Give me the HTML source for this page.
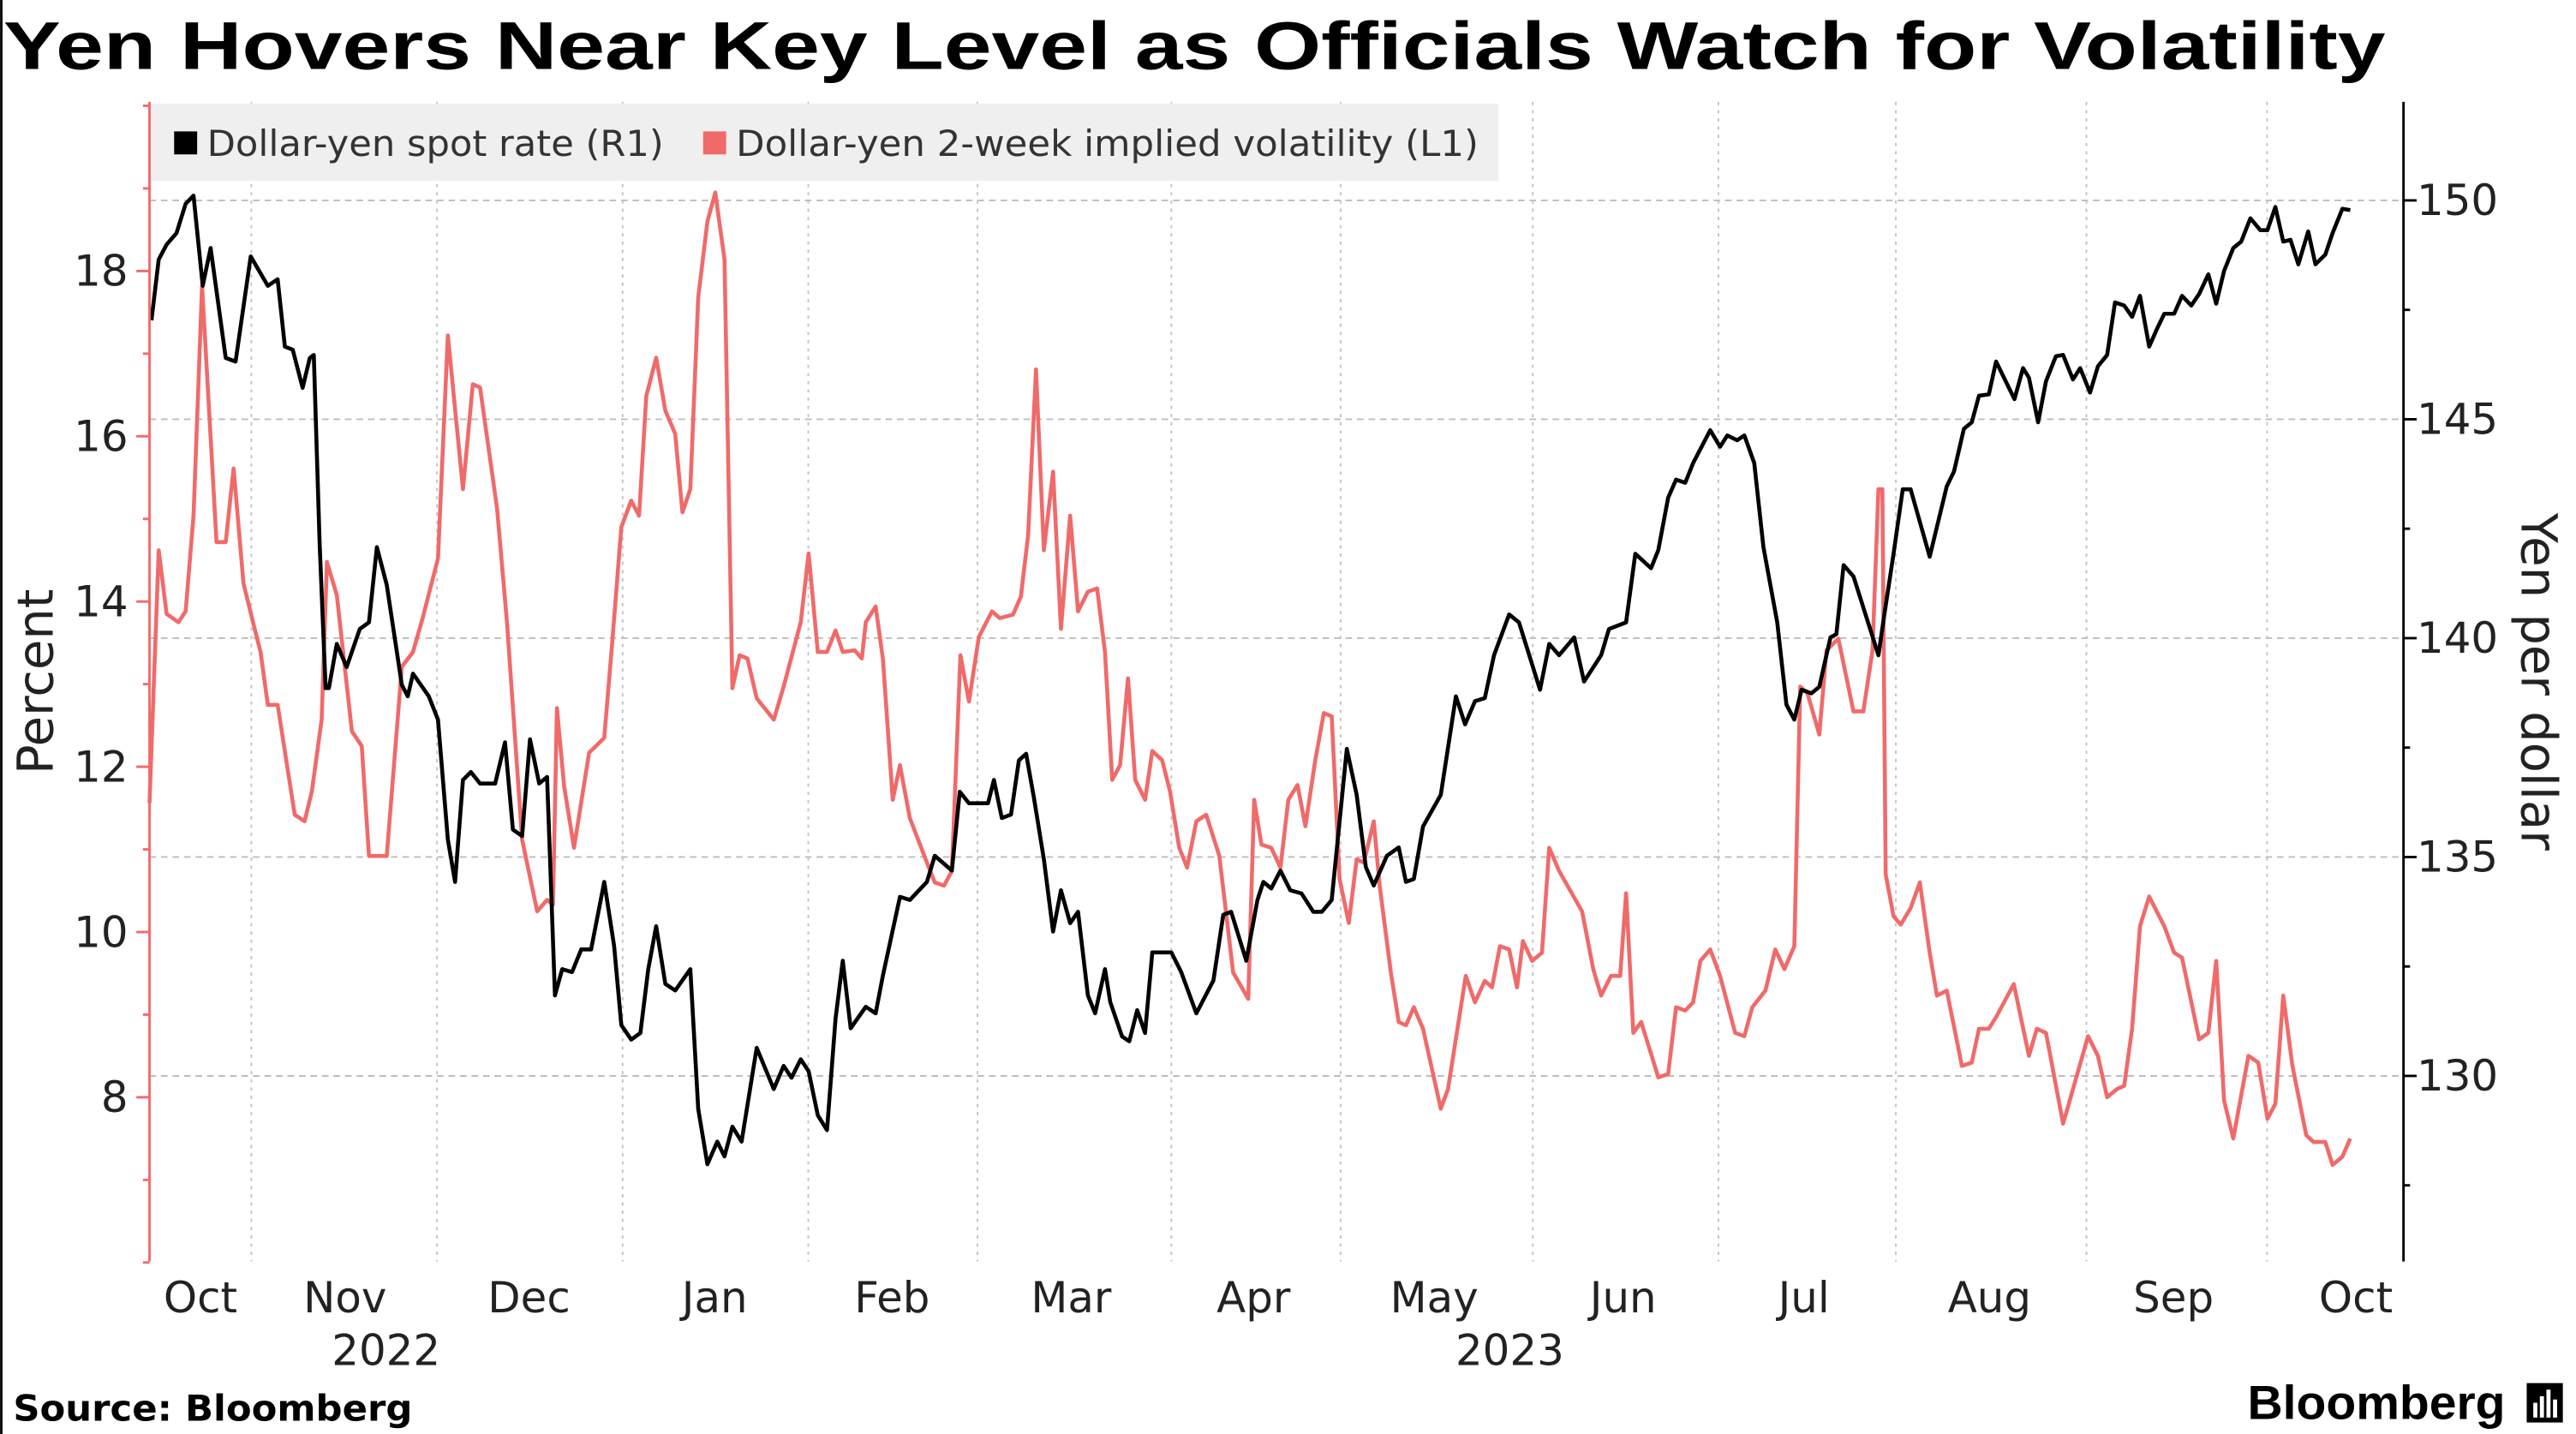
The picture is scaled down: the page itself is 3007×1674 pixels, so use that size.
<!DOCTYPE html>
<html><head><meta charset="utf-8"><style>
html,body{margin:0;padding:0;background:#fff;}
svg{display:block;}
text{font-family:"DejaVu Sans","Liberation Sans",sans-serif;}
</style></head><body>
<svg id="chart" width="3007" height="1674" viewBox="0 0 1568 873" preserveAspectRatio="none" xmlns="http://www.w3.org/2000/svg">
<rect x="0" y="0" width="1568" height="873" fill="#fff"/>
<line x1="0.8" y1="0" x2="0.8" y2="873" stroke="#000" stroke-width="1.5"/>
<text x="2" y="42" font-family="Liberation Sans, sans-serif" font-weight="bold" font-size="41" fill="#000" textLength="1450" lengthAdjust="spacingAndGlyphs" style="font-family:'Liberation Sans',sans-serif">Yen Hovers Near Key Level as Officials Watch for Volatility</text>
<g id="grid"></g>
<g id="series"></g>
<g id="axes"></g>
<g>
<rect x="92" y="63" width="820" height="47" fill="#efefef"/>
<rect x="106" y="80" width="14" height="14" fill="#000"/>
<text x="126" y="95" font-size="22" fill="#333" textLength="278" lengthAdjust="spacingAndGlyphs">Dollar-yen spot rate (R1)</text>
<rect x="428" y="80" width="14" height="14" fill="#f06a6a"/>
<text x="448" y="95" font-size="22" fill="#333" textLength="452" lengthAdjust="spacingAndGlyphs">Dollar-yen 2-week implied volatility (L1)</text>
</g>
<text transform="translate(32,415) rotate(-90)" text-anchor="middle" font-size="30" fill="#222">Percent</text>
<text transform="translate(1535,415) rotate(90)" text-anchor="middle" font-size="30" fill="#222">Yen per dollar</text>
<text x="8" y="865" font-size="22" font-weight="bold" fill="#000" textLength="243" lengthAdjust="spacingAndGlyphs">Source: Bloomberg</text>
<text x="1368" y="864" font-size="29" font-weight="bold" fill="#000" textLength="157" lengthAdjust="spacingAndGlyphs" style="font-family:'Liberation Sans',sans-serif">Bloomberg</text>
<g>
<rect x="1538" y="842" width="22" height="24" fill="#000"/>
<rect x="1542" y="854" width="2.5" height="9" fill="#fff"/><rect x="1546" y="850" width="2.5" height="13" fill="#fff"/><rect x="1550" y="846" width="2.5" height="17" fill="#fff"/><rect x="1554" y="852" width="2.5" height="11" fill="#fff"/>
</g>
</svg>
<script>
// spot rate (R1), yen per dollar; t = trading-day index from mid-Oct 2022
const spotT = [0.3,1.4,2.6,4.1,5.5,6.7,8.1,9.3,11.6,13.1,15.4,18.0,19.5,20.6,21.8,23.3,24.4,25,25.9,26.8,27.3,28.5,30.0,32.0,33.4,34.6,36.1,38.4,39.3,40.1,42.5,43.9,45.4,46.5,47.7,48.9,50.3,52.6,54.1,55.3,56.7,57.9,59.3,60.5,61.7,62.8,64.3,65.7,67.2,69.2,70.7,71.8,73.3,74.7,75.9,77.1,78.5,80.0,82.3,83.5,84.9,86.4,87.5,88.7,90.1,92.4,95.0,96.5,97.7,99.1,100.3,101.7,103.1,104.4,105.5,106.7,109.0,110.5,111.6,114.2,115.7,118.3,119.5,122.1,123.3,124.7,127.6,128.5,129.7,131.1,132.3,133.4,134.6,136.1,137.5,138.7,140.1,141.3,142.8,143.9,145.4,146.2,148.0,149.1,150.3,151.5,152.6,155.5,157.0,159.3,161.9,163.4,164.6,166.9,168.6,169.5,170.7,172.1,173.6,175.3,177.1,178.4,179.9,182.2,183.7,185.1,186.3,188.3,190.1,191.2,192.4,193.8,196.5,198.8,200.2,201.7,203.2,204.6,206.9,208.4,211.6,213.0,214.5,216.8,218.3,220.9,222.1,224.7,226.1,228.5,229.6,231.1,232.3,233.7,234.9,237.5,239.0,240.1,241.6,242.7,244.2,245.6,247.7,249.1,250.3,251.4,252.9,254.1,255.8,256.7,257.8,259.3,263.1,264.0,265.4,266.8,268.0,270.9,273.5,274.6,276.1,277.3,278.4,279.9,281.0,283.8,285.1,286.0,287.4,288.6,290.1,291.2,292.7,293.8,295.3,296.5,297.9,299.1,300.5,301.7,302.9,304.3,305.5,306.6,308.1,309.3,310.7,311.9,313.3,314.5,315.7,317.1,318.3,319.7,321.2,322.3,323.5,324.7,325.8,327.0,328.5,329.6,331.1,332.2,333.7,334.9];
const spotValues = [147.26,148.65,148.99,149.25,149.92,150.11,148.05,148.91,146.40,146.32,148.72,148.05,148.20,146.66,146.59,145.72,146.40,146.47,142.12,138.86,138.86,139.87,139.34,140.21,140.36,142.08,141.22,138.93,138.67,139.19,138.67,138.14,135.40,134.43,136.76,136.94,136.68,136.68,137.62,135.63,135.48,137.69,136.68,136.83,131.84,132.44,132.37,132.89,132.89,134.43,132.97,131.16,130.83,130.98,132.44,133.42,132.10,131.95,132.44,129.25,127.98,128.50,128.16,128.84,128.50,130.64,129.70,130.23,129.96,130.38,130.11,129.10,128.76,131.31,132.63,131.09,131.58,131.43,132.29,134.09,134.02,134.43,135.03,134.69,136.49,136.23,136.23,136.76,135.89,135.97,137.21,137.36,136.34,134.95,133.30,134.24,133.49,133.75,131.84,131.43,132.44,131.69,130.90,130.79,131.50,130.98,132.82,132.82,132.37,131.43,132.18,133.68,133.75,132.63,134.02,134.43,134.28,134.69,134.24,134.17,133.75,133.75,134.02,137.47,136.42,134.77,134.35,135.03,135.22,134.43,134.50,135.70,136.42,138.67,138.03,138.56,138.63,139.61,140.54,140.36,138.82,139.87,139.61,140.02,139.01,139.61,140.21,140.36,141.93,141.60,142.01,143.21,143.62,143.55,144.00,144.75,144.37,144.63,144.52,144.63,144.00,142.08,140.36,138.48,138.14,138.82,138.74,138.89,140.02,140.09,141.67,141.41,139.61,140.54,141.93,143.40,143.40,141.86,143.47,143.81,144.78,144.93,145.54,145.57,146.32,145.46,146.17,145.95,144.93,145.87,146.44,146.47,145.91,146.17,145.61,146.21,146.47,147.67,147.60,147.34,147.82,146.66,147.07,147.41,147.41,147.82,147.60,147.86,148.31,147.64,148.39,148.91,149.06,149.59,149.32,149.32,149.85,149.06,149.10,148.54,149.29,148.54,148.76,149.25,149.81,149.78];
// 2-week implied volatility (L1), percent
const volT = [0,1.4,2.6,4.4,5.5,6.7,8.0,9.0,10.2,11.6,12.8,14.3,16.0,16.9,18.0,19.5,22.1,23.6,24.7,26.2,27.0,28.5,30.8,32.3,33.4,36.1,38.4,40.1,41.6,43.9,45.4,47.7,49.2,50.3,52.9,54.4,56.7,59.0,60.5,61.4,62.0,63.1,64.6,66.9,69.2,70.4,71.8,73.3,74.5,75.6,77.1,78.5,80.0,81.1,82.3,83.5,84.9,86.1,87.5,88.7,89.8,91.0,92.4,95.0,96.5,99.1,100.3,101.7,103.1,104.4,105.5,107.3,108.4,109.0,110.5,111.6,113.1,114.2,115.7,118.3,119.5,120.9,122.1,123.4,124.7,126.2,128.2,129.4,131.4,132.6,133.7,134.9,136.1,137.5,138.7,140.1,141.3,142.8,144.2,145.4,146.5,147.7,148.9,150.0,151.5,152.6,154.1,155.3,156.7,157.9,159.3,160.8,162.8,164.9,167.2,168.1,169.2,170.7,172.1,173.3,174.7,175.9,177.4,178.7,179.9,181.1,182.5,183.7,184.8,186.3,187.2,188.9,190.1,191.2,192.4,193.8,196.5,197.6,200.3,201.7,203.2,204.3,205.5,206.9,208.1,209.0,210.4,211.9,213.0,214.5,218.0,219.7,220.9,222.4,223.8,224.7,225.8,227.0,229.6,231.1,232.3,233.7,234.9,236.0,237.5,239.0,241.3,242.7,243.9,245.9,247.4,248.8,250.3,251.2,252.3,254.1,255.2,257.0,259.3,260.8,262.2,263.1,263.7,264.2,265.4,266.5,268.0,269.4,270.9,272.0,273.5,275.8,277.3,278.4,279.9,281.0,283.7,286.0,287.2,288.6,291.2,295.0,296.5,297.9,299.4,300.5,301.7,302.9,304.3,306.6,308.1,309.3,311.9,313.3,314.5,315.7,317.1,319.4,320.9,322.3,323.5,324.7,326.1,328.2,329.3,331.1,332.2,333.7,334.9];
const volValues = [11.56,14.62,13.85,13.75,13.88,15.04,17.82,16.41,14.72,14.72,15.61,14.22,13.67,13.39,12.75,12.75,11.42,11.34,11.70,12.57,14.48,14.08,12.43,12.25,10.92,10.92,13.21,13.39,13.81,14.52,17.22,15.36,16.63,16.59,15.12,13.75,11.12,10.25,10.39,10.33,12.71,11.76,11.02,12.17,12.35,13.49,14.90,15.22,15.04,16.49,16.95,16.31,16.03,15.08,15.36,17.68,18.60,18.95,18.14,12.95,13.35,13.31,12.83,12.57,12.97,13.75,14.58,13.39,13.39,13.65,13.39,13.41,13.31,13.75,13.94,13.31,11.60,12.02,11.38,10.84,10.60,10.56,10.74,13.35,12.79,13.57,13.88,13.80,13.84,14.06,14.80,16.81,14.62,15.57,13.67,15.04,13.88,14.12,14.16,13.39,11.84,12.02,13.07,11.84,11.60,12.19,12.08,11.70,11.02,10.78,11.34,11.42,10.92,9.51,9.19,11.60,11.06,11.02,10.78,11.60,11.78,11.28,12.08,12.65,12.61,10.64,10.11,10.88,10.84,11.34,10.56,9.51,8.91,8.87,9.09,8.83,7.86,8.10,9.47,9.15,9.41,9.33,9.83,9.79,9.33,9.89,9.65,9.75,11.02,10.74,10.25,9.55,9.23,9.47,9.47,10.47,8.78,8.91,8.24,8.28,9.09,9.05,9.15,9.65,9.79,9.47,8.78,8.74,9.09,9.29,9.79,9.55,9.83,12.97,12.89,12.39,13.41,13.55,12.67,12.67,13.41,15.36,15.36,10.70,10.19,10.09,10.29,10.60,9.75,9.23,9.29,8.38,8.42,8.83,8.83,8.97,9.37,8.50,8.83,8.78,7.68,8.74,8.50,8.00,8.10,8.14,8.83,10.07,10.43,10.07,9.75,9.69,8.70,8.78,9.65,7.96,7.50,8.50,8.42,7.74,7.92,9.23,8.38,7.54,7.46,7.46,7.18,7.28,7.50];
// axes
const leftTicks = [8,10,12,14,16,18];
const rightTicks = [130,135,140,145,150];
const monthStartT = [15.5,43.75,72,100.25,126,155.5,181.25,210.5,238.75,265.75,294.75,322.25];
const monthLabels = ["Oct","Nov","Dec","Jan","Feb","Mar","Apr","May","Jun","Jul","Aug","Sep","Oct"];
const monthLabelT = [7.75,29.75,57.75,86,113,140.25,168,195.5,224.25,251.75,280,308,335.75];
const yearLabels = ["2022","2023"];
const yearLabelT = [36,207];

const NS = "http://www.w3.org/2000/svg";
const X0 = 91, X1 = 1463, Y0 = 62, Y1 = 768;
function xS(t){ return 91 + 4*t; }
function yL(v){ return 165 + (18 - v)*50.3; }
function yR(v){ return 122 + (150 - v)*26.65; }
function mk(tag, attrs, parent){
  const e = document.createElementNS(NS, tag);
  for (const k in attrs) e.setAttribute(k, attrs[k]);
  parent.appendChild(e);
  return e;
}
const grid = document.getElementById('grid');
const axes = document.getElementById('axes');
const series = document.getElementById('series');

rightTicks.forEach(function(v){
  const g = mk('line', {x1:X0, x2:X1, y1:yR(v), y2:yR(v), stroke:'#bdbdbd', 'stroke-width':1, 'stroke-dasharray':'4,3'}, grid);
  
  
});
monthStartT.forEach(function(t){
  const g = mk('line', {x1:xS(t), x2:xS(t), y1:Y0, y2:Y1, stroke:'#c4c4c4', 'stroke-width':1, 'stroke-dasharray':'2,3'}, grid);
  
  
});

function pathFrom(ts, vs, yf){
  let d = '';
  for (let i = 0; i < ts.length; i++) d += (i ? 'L' : 'M') + xS(ts[i]).toFixed(1) + ',' + yf(vs[i]).toFixed(1);
  return d;
}
const volLine = mk('path', {d:pathFrom(volT, volValues, yL), fill:'none', stroke:'#f06a6a', 'stroke-width':2.4, 'stroke-linejoin':'round'}, series);


const spotLine = mk('path', {d:pathFrom(spotT, spotValues, yR), fill:'none', stroke:'#000', 'stroke-width':2.4, 'stroke-linejoin':'round'}, series);



// left axis
const la = mk('line', {x1:X0, x2:X0, y1:Y0, y2:Y1, stroke:'#f06a6a', 'stroke-width':1.5}, axes);


for (let v = 6; v <= 20; v++) {
  const major = leftTicks.indexOf(v) >= 0;
  const tk = mk('line', {x1:X0 - (major ? 8 : 4), x2:X0, y1:yL(v), y2:yL(v), stroke:'#f06a6a', 'stroke-width':1.5}, axes);
  
  
}
leftTicks.forEach(function(v){
  const tx = mk('text', {x:78, y:yL(v) + 9, 'text-anchor':'end', 'font-size':26, fill:'#222'}, axes);
  tx.textContent = String(v);
  
  
});
// right axis
const ra = mk('line', {x1:X1, x2:X1, y1:Y0, y2:Y1, stroke:'#000', 'stroke-width':1.5}, axes);


for (let v = 127.5; v <= 152; v += 2.5) {
  const major = rightTicks.indexOf(v) >= 0;
  const tk = mk('line', {x1:X1, x2:X1 + (major ? 8 : 4), y1:yR(v), y2:yR(v), stroke:'#000', 'stroke-width':1.5}, axes);
  
  
}
rightTicks.forEach(function(v){
  const tx = mk('text', {x:1471, y:yR(v) + 9, 'font-size':26, fill:'#222'}, axes);
  tx.textContent = String(v);
  
  
});
// x axis labels
monthLabels.forEach(function(m, i){
  const tx = mk('text', {x:xS(monthLabelT[i]), y:799, 'text-anchor':'middle', 'font-size':26, fill:'#222'}, axes);
  tx.textContent = m;
  
  
});
yearLabels.forEach(function(yv, i){
  const tx = mk('text', {x:xS(yearLabelT[i]), y:831, 'text-anchor':'middle', 'font-size':26, fill:'#222'}, axes);
  tx.textContent = yv;
  
  
});
</script>
</body></html>
